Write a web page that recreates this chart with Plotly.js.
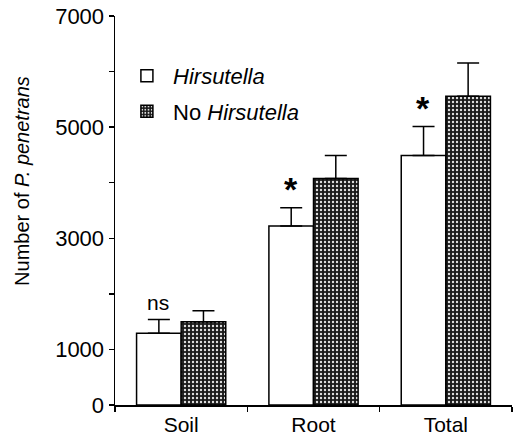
<!DOCTYPE html>
<html>
<head>
<meta charset="utf-8">
<script src="https://cdn.plot.ly/plotly-3.0.1.min.js"></script>
<style>html,body{margin:0;padding:0;background:#fff;}#chart{width:519px;height:446px;}</style>
</head>
<body>
<div id="chart"></div>
<script>
const categories = ["Soil", "Root", "Total"];
const hirsutella = [1290, 3220, 4490];
const hirsutellaErr = [250, 330, 520];
const noHirsutella = [1500, 4075, 5555];
const noHirsutellaErr = [195, 415, 600];
const signif = ["ns", "*", "*"];
const yTicks = [0, 1000, 3000, 5000, 7000];

const FONT = "Liberation Sans, Arial, Helvetica, sans-serif";

const traces = [
  {
    type: "bar", name: "&nbsp;<i>Hirsutella</i>", x: categories, y: hirsutella,
    legendgroup: "a",
    marker: { color: "#ffffff", line: { color: "#000", width: 1.5 } },
    error_y: { type: "data", array: hirsutellaErr, arrayminus: [0,0,0], color: "#000", thickness: 1.5, width: 11 }
  },
  {
    type: "bar", name: "&nbsp;No <i>Hirsutella</i>", x: categories, y: noHirsutella,
    legendgroup: "b",
    marker: { color: "#222", line: { color: "#000", width: 1.5 },
      pattern: { shape: ".", bgcolor: "#1a1a1a", fgcolor: "#e0e0e0", size: 4, solidity: 0.28 } },
    error_y: { type: "data", array: noHirsutellaErr, arrayminus: [0,0,0], color: "#000", thickness: 1.5, width: 11 }
  }
];

const annotations = categories.map((c, i) => ({
  xref: "x", yref: "y", x: c, y: hirsutella[i] + hirsutellaErr[i],
  xshift: -23, yshift: signif[i] === "ns" ? 3 : -2,
  text: signif[i], showarrow: false, yanchor: "bottom",
  font: signif[i] === "ns" ? { family: FONT, size: 21, color: "#000" } : { family: FONT, size: 34, color: "#000", weight: "bold" }
}));
annotations.push({
  xref: "paper", yref: "paper", x: 0, y: 0.576, xshift: -93, xanchor: "center", yanchor: "middle",
  textangle: -90, showarrow: false, text: "Number of <i>P. penetrans</i>",
  font: { family: FONT, size: 20, color: "#000" }
});

const layout = {
  width: 519, height: 446,
  margin: { l: 115, r: 7, t: 16, b: 41 },
  paper_bgcolor: "#fff", plot_bgcolor: "#fff",
  font: { family: FONT, size: 20, color: "#000" },
  barmode: "group", bargap: 0.326, bargroupgap: 0,
  showlegend: true,
  legend: { x: 0.03, y: 0.9, xanchor: "left", yanchor: "top", bgcolor: "rgba(0,0,0,0)",
    font: { family: FONT, size: 22, color: "#000" }, traceorder: "grouped", tracegroupgap: 4 },
  xaxis: {
    type: "category", showgrid: false, zeroline: false, showline: true, linecolor: "#000", linewidth: 1.5,
    ticks: "outside", tickson: "boundaries", ticklen: 5, tickcolor: "#000", tickwidth: 1.5,
    tickfont: { family: FONT, size: 21, color: "#000" }, range: [-0.5, 2.5]
  },
  yaxis: {
    range: [0, 7000], showgrid: false, zeroline: false, showline: true, linecolor: "#000", linewidth: 1.5,
    ticks: "outside", ticklen: 5, tickcolor: "#000", tickwidth: 1.5,
    tickmode: "array", tickvals: yTicks, ticktext: yTicks.map(String),
    minor: { tickmode: "array", tickvals: [2000, 4000, 6000], ticks: "outside", ticklen: 5, tickcolor: "#000", tickwidth: 1.5, showgrid: false },
    tickfont: { family: FONT, size: 22, color: "#000" }
  },
  annotations: annotations
};

Plotly.newPlot("chart", traces, layout, { staticPlot: true, displayModeBar: false });
</script>
</body>
</html>
